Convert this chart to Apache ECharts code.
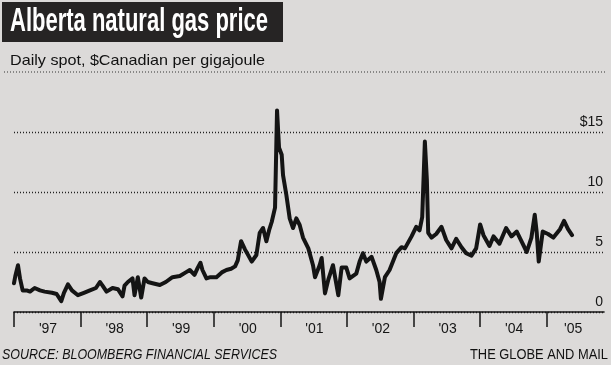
<!DOCTYPE html>
<html>
<head>
<meta charset="utf-8">
<script src="https://cdn.jsdelivr.net/npm/echarts@6/dist/echarts.min.js"></script>
<style>
html,body{margin:0;padding:0;background:#dcdad9;}
#c{width:611px;height:365px;}
</style>
</head>
<body>
<div id="c"></div>
<script>
// Decimal-year dates of the traced points
const dates = [
  1997.00,1997.02,1997.06,1997.09,1997.13,1997.19,1997.24,1997.31,1997.39,1997.46,
  1997.57,1997.64,1997.71,1997.75,1997.81,1997.87,1997.96,1998.05,1998.14,1998.23,
  1998.29,1998.33,1998.39,1998.48,1998.56,1998.63,1998.66,1998.71,1998.78,1998.81,
  1998.86,1998.91,1998.96,1999.01,1999.08,1999.19,1999.28,1999.38,1999.49,1999.58,
  1999.64,1999.71,1999.76,1999.80,1999.83,1999.89,1999.95,2000.04,2000.12,2000.19,
  2000.26,2000.32,2000.36,2000.41,2000.47,2000.51,2000.57,2000.64,2000.69,2000.74,
  2000.79,2000.83,2000.87,2000.92,2000.95,2000.98,2001.02,2001.04,2001.09,2001.14,
  2001.19,2001.24,2001.29,2001.34,2001.42,2001.49,2001.52,2001.59,2001.62,2001.67,
  2001.72,2001.79,2001.87,2001.92,2001.99,2002.04,2002.14,2002.19,2002.24,2002.29,
  2002.37,2002.44,2002.49,2002.51,2002.57,2002.64,2002.74,2002.82,2002.87,2002.97,
  2003.04,2003.09,2003.13,2003.17,2003.20,2003.22,2003.27,2003.34,2003.42,2003.49,
  2003.57,2003.64,2003.72,2003.79,2003.87,2003.94,2004.00,2004.05,2004.14,2004.20,
  2004.29,2004.39,2004.47,2004.55,2004.62,2004.70,2004.77,2004.82,2004.85,2004.88,
  2004.94,2005.02,2005.10,2005.20,2005.26,2005.32,2005.38
];
// Daily spot price, $Cdn per gigajoule
const prices = [
  2.4,3.0,3.9,2.8,1.8,1.8,1.7,2.0,1.8,1.7,
  1.6,1.5,0.9,1.6,2.3,1.8,1.4,1.6,1.8,2.0,
  2.5,2.2,1.7,2.0,1.9,1.3,2.2,2.5,2.8,1.4,
  2.9,1.2,2.8,2.5,2.4,2.25,2.5,2.9,3.0,3.3,
  3.5,3.1,3.7,4.1,3.5,2.8,2.9,2.9,3.3,3.5,
  3.6,3.8,4.3,5.9,5.2,4.8,4.2,4.75,6.6,7.0,
  5.9,6.8,7.5,8.7,16.8,13.7,13.1,11.4,9.75,7.8,
  7.0,7.8,7.25,6.2,5.3,3.9,2.9,3.9,4.5,1.55,
  2.7,3.9,1.4,3.7,3.7,2.8,3.2,4.2,4.9,4.2,
  4.6,3.5,2.5,1.1,2.9,3.5,4.9,5.4,5.3,6.3,
  7.1,6.8,7.9,14.2,11.0,6.6,6.2,6.5,7.1,6.0,
  5.3,6.1,5.4,4.9,4.7,5.3,7.3,6.4,5.5,6.3,
  5.7,7.0,6.3,6.7,5.9,5.0,6.2,8.1,6.6,4.2,
  6.7,6.5,6.2,6.9,7.6,6.9,6.4
];
const xTickLabels = ["'97","'98","'99","'00","'01","'02","'03","'04","'05"];
const yTickLabels = {0:'0',5:'5',10:'10',15:'$15'};

const FONT = '"Liberation Sans", Arial, sans-serif';
const NARROW = '"Liberation Sans Narrow", "Liberation Sans", Arial, sans-serif';

function fitScale(text, font, target) {
  const ctx = document.createElement('canvas').getContext('2d');
  ctx.font = font;
  const w = ctx.measureText(text).width;
  return w > 0 ? target / w : 1;
}

const titleText = 'Alberta natural gas price';
const subText = 'Daily spot, $Canadian per gigajoule';
const srcText = 'SOURCE: BLOOMBERG FINANCIAL SERVICES';
const brandText = 'THE GLOBE AND MAIL';

const sTitle = fitScale(titleText, 'bold 33px ' + NARROW, 258);
const sSub = fitScale(subText, '15px ' + FONT, 255);
const sSrc = fitScale(srcText, 'italic 14px ' + FONT, 275);
const sBrand = fitScale(brandText, '14px ' + FONT, 138);

const data = dates.map((d, i) => [d, prices[i]]);

const chart = echarts.init(document.getElementById('c'), null, {renderer: 'canvas'});
chart.setOption({
  backgroundColor: '#dcdad9',
  animation: false,
  grid: {left: 14, right: 7, top: 132, bottom: 53},
  xAxis: {
    type: 'value', min: 1997, max: 2005.86, interval: 1,
    axisLine: {show: true, onZero: false, lineStyle: {color: '#151515', width: 1.6}},
    axisTick: {show: true, length: 15, lineStyle: {color: '#151515', width: 1.5}},
    splitLine: {show: false},
    axisLabel: {
      show: true, showMinLabel: true, showMaxLabel: false, margin: 10,
      formatter: function (v) {
        const i = Math.round(v - 1997);
        const lab = xTickLabels[i];
        if (!lab) return '';
        return i === 8 ? '{e|' + lab + '}' : '{n|' + lab + '}';
      },
      rich: {
        n: {padding: [0, 0, 0, 68], fontSize: 14, color: '#151515', fontFamily: FONT},
        e: {padding: [0, 0, 0, 53], fontSize: 14, color: '#151515', fontFamily: FONT}
      }
    }
  },
  yAxis: {
    type: 'value', position: 'right', min: 0, max: 15, interval: 5,
    axisLine: {show: false}, axisTick: {show: false},
    splitLine: {show: true, lineStyle: {type: [1, 2], color: '#222', width: 1.3}},
    axisLabel: {
      inside: true, margin: 1, verticalAlign: 'bottom', padding: [0, 0, 3, 0],
      fontSize: 14, color: '#151515', fontFamily: FONT,
      formatter: v => yTickLabels[v] !== undefined ? yTickLabels[v] : ''
    }
  },
  series: [{
    type: 'line', data: data, showSymbol: false, clip: false,
    lineStyle: {color: '#141414', width: 4, join: 'round', cap: 'round'}
  }],
  graphic: [
    {type: 'rect', shape: {x: 2, y: 2, width: 281, height: 40}, style: {fill: '#262424'}},
    {type: 'text', x: 10, y: 22, scaleX: sTitle,
      style: {text: titleText, fill: '#ffffff', fontSize: 33, fontWeight: 'bold', fontFamily: NARROW, verticalAlign: 'middle', align: 'left'}},
    {type: 'text', x: 10, y: 61, scaleX: sSub,
      style: {text: subText, fill: '#111', fontSize: 15, fontFamily: FONT, verticalAlign: 'middle', align: 'left'}},
    {type: 'line', shape: {x1: 4, y1: 72, x2: 606, y2: 72}, style: {stroke: '#333', lineDash: [1, 2], lineWidth: 1.2}},
    {type: 'text', x: 2, y: 355, scaleX: sSrc,
      style: {text: srcText, fill: '#111', fontSize: 14, fontStyle: 'italic', fontFamily: FONT, verticalAlign: 'middle', align: 'left'}},
    {type: 'text', x: 608, y: 355, scaleX: sBrand,
      style: {text: brandText, fill: '#111', fontSize: 14, fontFamily: FONT, verticalAlign: 'middle', align: 'right'}}
  ]
});
</script>
</body>
</html>
